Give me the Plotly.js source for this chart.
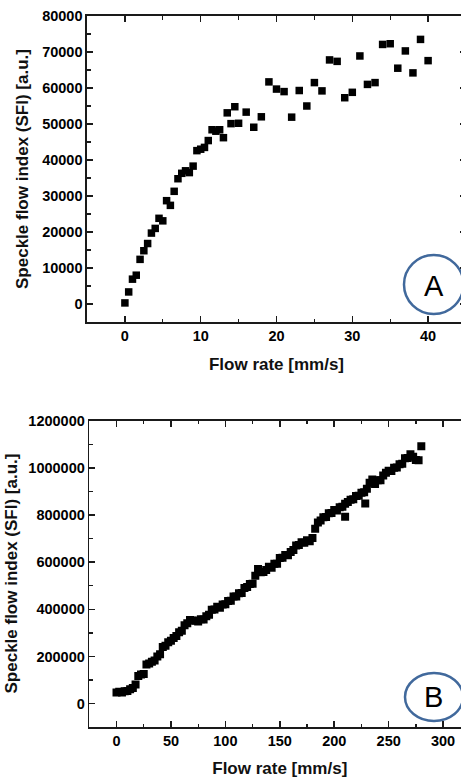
<!DOCTYPE html>
<html><head><meta charset="utf-8">
<script src="https://cdn.plot.ly/plotly-3.0.1.min.js"></script>
<style>html,body{margin:0;padding:0;overflow:hidden;background:#fff}#chart{width:472px;height:779px}</style>
</head><body><div id="chart"></div>
<script>
// Panel A
const flowA = [0,0.5,1,1.5,2,2.5,3,3.5,4,4.5,5,5.5,6,6.5,7,7.5,8,8.5,9,9.5,10,10.5,11,11.5,12,12.5,13,13.5,14,14.5,15,16,17,18,19,20,21,22,23,24,25,26,27,28,29,30,31,32,33,34,35,36,37,38,39,40];
const sfiA = [300,3350,6900,8000,12400,14800,16800,19700,21000,23800,23100,28700,27400,31300,34800,36300,37000,36500,38300,42600,43000,43500,45400,48400,48000,48400,46200,53100,50100,54800,50200,53300,49100,52000,61700,59700,59000,51900,59300,55000,61500,59200,67800,67400,57300,58800,68900,61000,61500,72100,72300,65500,70300,64200,73500,67600];
// Panel B
const flowB = [0,2.5,5,7.5,10,12.5,15,17.5,20,22.5,25,27.5,30,32.5,35,37.5,40,42.5,45,47.5,50,52.5,55,57.5,60,62.5,65,67.5,70,72.5,75,77.5,80,82.5,85,87.5,90,92.5,95,97.5,100,102.5,105,107.5,110,112.5,115,117.5,120,122.5,125,127.5,130,132.5,135,137.5,140,142.5,145,147.5,150,152.5,155,157.5,160,162.5,165,167.5,170,172.5,175,177.5,180,182.5,185,187.5,190,192.5,195,197.5,200,202.5,205,207.5,210,212.5,215,217.5,220,222.5,225,227.5,230,232.5,235,237.5,240,242.5,245,247.5,250,252.5,255,257.5,260,262.5,265,267.5,270,272.5,275,277.5,280,210,228.5];
const sfiB = [48000,51000,48000,53000,54000,61000,67000,82000,117000,124000,126000,166000,170000,178000,183000,200000,210000,240000,246000,261000,267000,279000,287000,303000,309000,333000,341000,355000,353000,352000,349000,358000,357000,371000,377000,398000,399000,411000,407000,421000,422000,435000,437000,455000,455000,468000,469000,491000,495000,508000,509000,543000,571000,557000,558000,567000,581000,577000,593000,593000,618000,619000,631000,629000,643000,652000,671000,673000,685000,682000,693000,689000,703000,742000,768000,777000,791000,792000,808000,809000,821000,819000,833000,835000,848000,855000,865000,867000,881000,882000,895000,897000,911000,937000,951000,932000,948000,947000,968000,979000,988000,987000,1001000,1002000,1015000,1017000,1041000,1042000,1058000,1047000,1033000,1032000,1092000,793000,849000];

const xTicksA = [0,10,20,30,40];
const yTicksA = [0,10000,20000,30000,40000,50000,60000,70000,80000];
const xTicksB = [0,50,100,150,200,250,300];
const yTicksB = [0,200000,400000,600000,800000,1000000,1200000];
const xTitle = 'Flow rate [mm/s]';
const yTitle = 'Speckle flow index (SFI) [a.u.]';

const W = 472, H = 779;
const tickFont = {family:'Liberation Sans, Arial, sans-serif', size:14.5, color:'#000', weight:700};
const titleFont = {family:'Liberation Sans, Arial, sans-serif', size:17, color:'#111', weight:700};
function axisBase(vals, minorDtick){
  return {
    tickvals: vals, ticktext: vals.map(String),
    showline:true, linecolor:'#1a1a1a', linewidth:1.6, mirror:'ticks',
    ticks:'inside', ticklen:6, tickwidth:1.5, tickcolor:'#1a1a1a',
    showgrid:false, zeroline:false, tickfont:tickFont,
    minor:{ticks:'inside', ticklen:3.5, tickwidth:1.3, tickcolor:'#1a1a1a', dtick:minorDtick, showgrid:false},
    fixedrange:true
  };
}
const traces = [
  {x:flowA, y:sfiA, type:'scatter', mode:'markers', marker:{symbol:'square', size:7.5, color:'#000', line:{width:0}}, xaxis:'x', yaxis:'y', hoverinfo:'skip'},
  {x:flowB, y:sfiB, type:'scatter', mode:'markers', marker:{symbol:'square', size:8, color:'#000', line:{width:0}}, xaxis:'x2', yaxis:'y2', hoverinfo:'skip'}
];
const yA = [1-322/H, 1-16/H], yB = [1-727.3/H, 1-420.7/H];
const layout = {
  width:W, height:H, margin:{l:0,r:0,t:0,b:0}, showlegend:false,
  paper_bgcolor:'#fff', plot_bgcolor:'#fff',
  xaxis: Object.assign(axisBase(xTicksA,5), {domain:[87/W,466/W], range:[-5,45], anchor:'y', title:{text:xTitle, font:titleFont, standoff:15}}),
  yaxis: Object.assign(axisBase(yTicksA,5000), {domain:yA, range:[-5000,80000], anchor:'x'}),
  xaxis2: Object.assign(axisBase(xTicksB,25), {domain:[89.3/W,470.3/W], range:[-25,325], anchor:'y2', title:{text:xTitle, font:titleFont, standoff:14}}),
  yaxis2: Object.assign(axisBase(yTicksB,100000), {domain:yB, range:[-100000,1200000], anchor:'x2'}),
  shapes:[
    {type:'circle', xref:'paper', yref:'paper', x0:404/W, x1:463.5/W, y0:1-314/H, y1:1-255/H, line:{color:'#41699c', width:2.5}},
    {type:'circle', xref:'paper', yref:'paper', x0:405/W, x1:463/W, y0:1-721/H, y1:1-673/H, line:{color:'#41699c', width:2.5}}
  ],
  annotations:[
    {text:yTitle, textangle:-90, xref:'paper', yref:'paper', x:22/W, y:(yA[0]+yA[1])/2, showarrow:false, xanchor:'center', yanchor:'middle', font:titleFont},
    {text:yTitle, textangle:-90, xref:'paper', yref:'paper', x:10.5/W, y:(yB[0]+yB[1])/2, showarrow:false, xanchor:'center', yanchor:'middle', font:titleFont},
    {text:'A', xref:'paper', yref:'paper', x:433.5/W, y:1-286/H, showarrow:false, xanchor:'center', yanchor:'middle', font:{family:'Liberation Sans, Arial, sans-serif', size:29, color:'#000'}},
    {text:'B', xref:'paper', yref:'paper', x:433.5/W, y:1-697/H, showarrow:false, xanchor:'center', yanchor:'middle', font:{family:'Liberation Sans, Arial, sans-serif', size:29, color:'#000'}}
  ]
};
Plotly.newPlot('chart', traces, layout, {displayModeBar:false, staticPlot:true});
</script></body></html>
